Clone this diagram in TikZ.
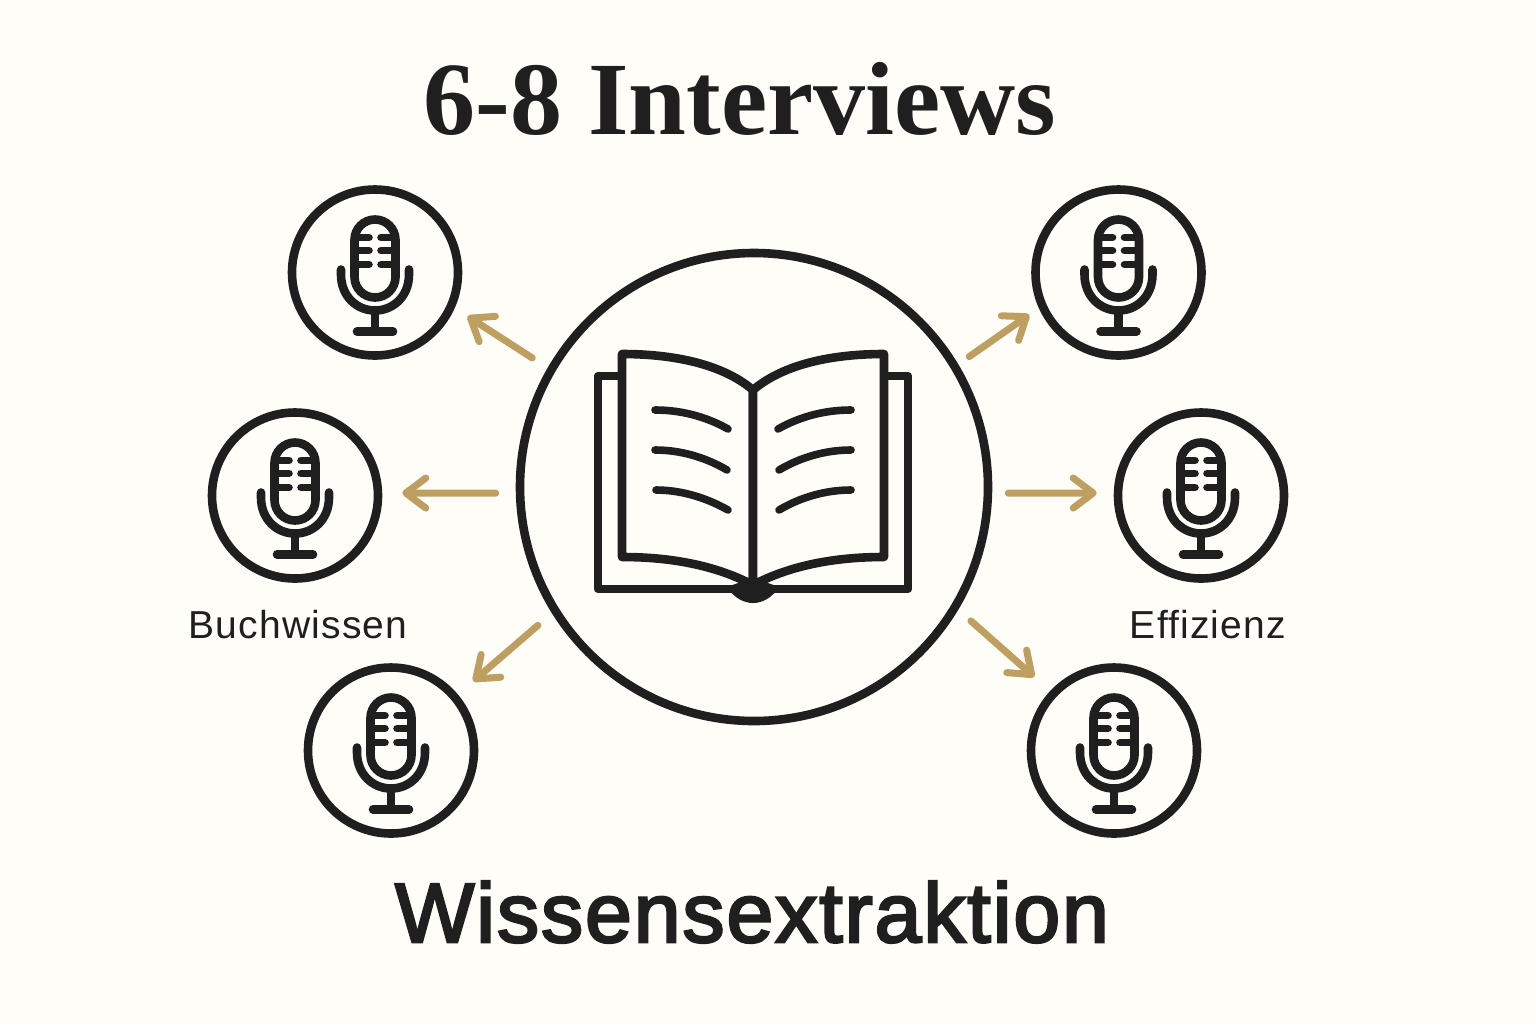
\documentclass[tikz,border=0pt]{standalone}
\usepackage{fontspec}
\setmainfont{Liberation Serif}
\setsansfont{Liberation Sans}
\newfontfamily\footfont[FakeBold=3,LetterSpace=2.4]{Liberation Sans}
\newfontfamily\labelfont[LetterSpace=3]{Liberation Sans}
\usetikzlibrary{arrows.meta}
\definecolor{bgc}{HTML}{FFFDF8}
\definecolor{ink}{HTML}{1F1F1F}
\definecolor{gold}{HTML}{BE9F60}
\tikzset{
  ring/.style={circle,draw=ink,line width=4.3pt,minimum size=83pt,inner sep=0pt},
  hubring/.style={circle,draw=ink,line width=4.3pt,minimum size=234pt,inner sep=0pt},
  flow/.style={draw=gold,line width=3.5pt,line cap=round,-{Straight Barb[round,length=10pt,width=15pt]}},
  stroke/.style={draw=ink,line width=4.3pt,line cap=round,line join=round},
  fine/.style={draw=ink,line width=3.8pt,line cap=round,line join=round},
  tick/.style={draw=ink,line width=3.8pt,line cap=round},
  micicon/.pic={
    \draw[stroke,rounded corners=10.25pt] (-20.5,-53) rectangle (20.5,25);
    \foreach \yy in {-35,-22,-8}{
      \draw[tick] (-20,\yy) -- (-6,\yy);
      \draw[tick] (20,\yy) -- (6,\yy);
    }
    \draw[stroke] (-34,-3) -- (-34,2) .. controls (-34,24) and (-18,38) .. (0,38)
      .. controls (18,38) and (34,24) .. (34,2) -- (34,-3);
    \draw[stroke] (0,38) -- (0,59);
    \draw[stroke] (-18,59) -- (18,59);
  }
}
\begin{document}
\begin{tikzpicture}[x=0.5pt,y=-0.5pt]
\useasboundingbox (0,0) rectangle (1536,1024);
\fill[bgc] (0,0) rectangle (1536,1024);

\node[font=\fontsize{52}{60}\selectfont\bfseries,text=ink] (title) at (740,99) {6-8 Interviews};
\node[font=\footfont\fontsize{42}{50}\selectfont,text=ink] (footer) at (752,912) {Wissensextraktion};
\node[font=\labelfont\fontsize{19.5}{24}\selectfont,text=ink] (lblb) at (298,625) {Buchwissen};
\node[font=\labelfont\fontsize{19.5}{24}\selectfont,text=ink] (lble) at (1208,625) {Effizienz};

\node[hubring] (hub) at (754,487) {};
\node[ring] (m1) at (375,272.5) {};
\node[ring] (m2) at (1118.5,272.5) {};
\node[ring] (m3) at (295,495.5) {};
\node[ring] (m4) at (1201,495.5) {};
\node[ring] (m5) at (391,750.5) {};
\node[ring] (m6) at (1114,750.5) {};

\foreach \mm in {m1,m2,m3,m4,m5,m6}{
  \pic at (\mm) {micicon};
}

% book
\draw[stroke] (622,376) -- (598,376) -- (598,589) -- (908,589) -- (908,376) -- (884,376);
\draw[stroke,fill=bgc] (753,390) .. controls (720,362) and (668,354) .. (622,354) -- (622,557)
  .. controls (670,557) and (715,565) .. (753,585) -- cycle;
\draw[stroke,fill=bgc] (753,390) .. controls (786,362) and (838,354) .. (884,354) -- (884,557)
  .. controls (836,557) and (791,565) .. (753,585) -- cycle;
\fill[ink] (727,587) .. controls (734,598) and (744,603) .. (753,603)
  .. controls (762,603) and (772,598) .. (779,587) -- (768,583) -- (753,578) -- (738,583) -- cycle;
\draw[fine] (655,410) .. controls (680,410) and (705,416) .. (728,429);
\draw[fine] (655,450) .. controls (680,450) and (705,457) .. (727,470);
\draw[fine] (656,490) .. controls (680,490) and (705,497) .. (728,510);
\draw[fine] (851,410) .. controls (826,410) and (801,416) .. (778,429);
\draw[fine] (851,450) .. controls (826,450) and (801,457) .. (779,470);
\draw[fine] (851,490) .. controls (826,490) and (801,497) .. (779,510);

% connectors
\draw[flow,shorten <=9.15pt,shorten >=7.6pt] (hub.150) -- (m1.-24);
\draw[flow,shorten <=6.7pt,shorten >=5.8pt] (hub.31) -- (m2.204);
\draw[flow,shorten <=10pt,shorten >=10pt] ([yshift=-1pt]hub.181) -- ([yshift=0.5pt]m3.1);
\draw[flow,shorten <=8pt,shorten >=8.5pt] ([yshift=-1pt]hub.359) -- ([yshift=0.5pt]m4.179);
\draw[flow,shorten <=9.25pt,shorten >=10.1pt] (hub.212) -- (m5.40);
\draw[flow,shorten <=8.45pt,shorten >=10.6pt] (hub.-31) -- (m6.137);
\end{tikzpicture}
\end{document}
